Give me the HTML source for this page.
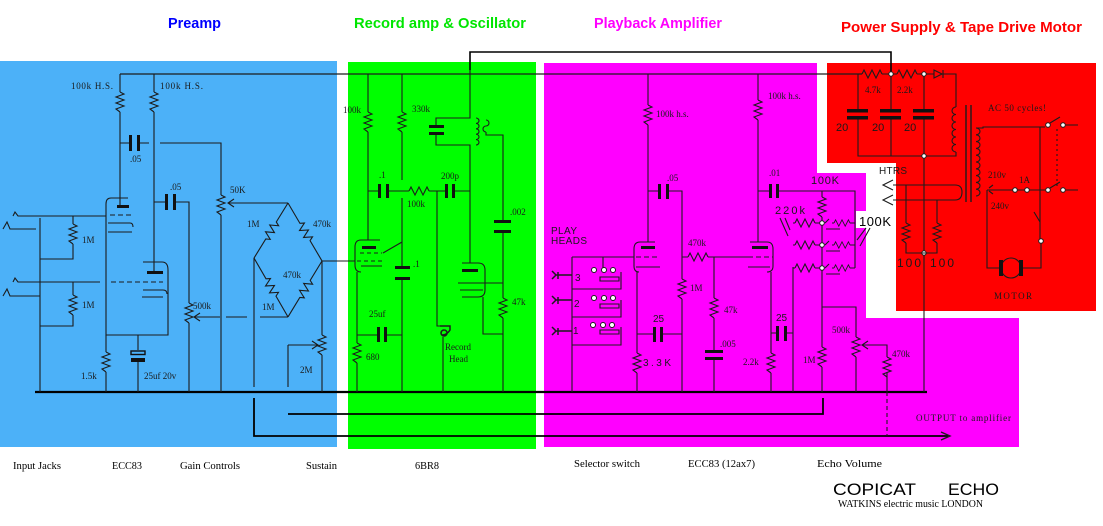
<!DOCTYPE html>
<html><head><meta charset="utf-8"><style>
html,body{margin:0;padding:0;background:#fff;}
svg{display:block;}
.w{stroke:#1c1c1c;stroke-width:1.1;fill:none;}
.d{stroke:#1c1c1c;stroke-width:1.1;fill:none;stroke-dasharray:5,3;}
.g{stroke:#000;stroke-width:2.2;fill:none;}
.p{fill:#111;}
.c{fill:#fff;stroke:#1c1c1c;stroke-width:1;}
text{font-family:"Liberation Serif",serif;font-size:9px;fill:#1a1a1a;}
.s{font-family:"Liberation Sans",sans-serif;}
.t{font-family:"Liberation Sans",sans-serif;font-weight:bold;font-size:15px;}
.b{font-size:10.5px;fill:#000;}
</style></head><body>
<svg width="1103" height="526" viewBox="0 0 1103 526" xmlns="http://www.w3.org/2000/svg">
<defs>
<path id="rv" d="M0,0 l4,2 l-8,3 l8,3 l-8,3 l8,3 l-8,3 l4,3"/>
<path id="rh" d="M0,0 l2,-4 l4,8 l4,-8 l4,8 l4,-8 l2,4"/>
</defs>

<!-- colour regions -->
<rect x="0" y="61" width="337" height="386" fill="#4cb1f8"/>
<rect x="348" y="62" width="188" height="387" fill="#00ff00"/>
<polygon points="544,63 817,63 817,173 866,173 866,318 1019,318 1019,447 544,447" fill="#ff00ff"/>
<polygon points="827,63 1096,63 1096,311 896,311 896,163 827,163" fill="#ff0000"/>
<rect x="856" y="211" width="12" height="17" fill="#fff"/>

<!-- titles -->
<text class="t" x="168" y="28" fill="#0000ff" style="fill:#0000ff" textLength="53" lengthAdjust="spacingAndGlyphs">Preamp</text>
<text class="t" x="354" y="28" style="fill:#00e600" textLength="172" lengthAdjust="spacingAndGlyphs">Record amp &amp; Oscillator</text>
<text class="t" x="594" y="28" style="fill:#ff00ff" textLength="128" lengthAdjust="spacingAndGlyphs">Playback Amplifier</text>
<text class="t" x="841" y="32" style="fill:#ff0000" textLength="241" lengthAdjust="spacingAndGlyphs">Power Supply &amp; Tape Drive Motor</text>

<!-- buses -->
<path class="w" style="stroke-width:1.6;stroke:#000" d="M470,70 V52 H891 V74"/>
<path class="w" style="stroke-width:1.3" d="M120,74 H862"/>
<path class="g" d="M35,392 H927"/>
<path class="g" style="stroke-width:1.8" d="M288,414 H823 V398"/>
<path class="g" style="stroke-width:1.8" d="M254,398 V436 H948"/>
<path class="w" style="stroke-width:1.4" d="M941,432 L950,436 L941,440"/>

<!-- ===== PREAMP ===== -->
<path class="w" d="M120,74 V92 M120,112 V206 M154,74 V92 M154,112 V272"/>
<use href="#rv" class="w" x="120" y="92"/>
<use href="#rv" class="w" x="154" y="92"/>
<path class="w" d="M120,143 H130 M139,143 H149 M160,143 H221 V195 M221,215 V392"/>
<rect class="p" x="129" y="135" width="3" height="16"/><rect class="p" x="137" y="135" width="3" height="16"/>
<use href="#rv" class="w" x="221" y="195"/>
<path class="w" d="M229,203 H288 M234,199 L228,203 L234,207"/>
<path class="w" d="M154,202 H166 M175,202 H189 V303 M189,323 V392"/>
<rect class="p" x="165" y="194" width="3" height="16"/><rect class="p" x="173" y="194" width="3" height="16"/>
<use href="#rv" class="w" x="189" y="303"/>
<path class="w" d="M195,317 H220 M226,317 H247 M260,317 H288 M200,313 L194,317 L200,321"/>
<!-- bridge -->
<path class="w" transform="translate(288,203) rotate(121.7)" d="M0,0 H22.3 l2,-4 l4,8 l4,-8 l4,8 l4,-8 l2,4 H64.7"/>
<path class="w" transform="translate(288,203) rotate(59.6)" d="M0,0 H23.6 l2,-4 l4,8 l4,-8 l4,8 l4,-8 l2,4 H67.2"/>
<path class="w" transform="translate(254,258) rotate(60)" d="M0,0 H24 l2,-4 l4,8 l4,-8 l4,8 l4,-8 l2,4 H68.1"/>
<path class="w" transform="translate(322,261) rotate(121.3)" d="M0,0 H22.7 l2,-4 l4,8 l4,-8 l4,8 l4,-8 l2,4 H65.5"/>
<path class="w" d="M322,261 H355 M254,258 V387 M322,261 V335 M322,355 V392 M288,345 V387"/>
<use href="#rv" class="w" x="322" y="335"/>
<path class="w" d="M288,345 H317 M312,341 L318,345 L312,349"/>
<!-- input jacks -->
<path class="w" d="M3,229 L7,222 L10,229 H36 M13,216 L15,212 L18,216 H106 M40,218 V392 M73,216 V224 M73,244 V259 H40 M3,296 L7,289 L10,296 H40 M13,282 L15,278 L18,282 H100 M73,282 V295 M73,315 V326 H40"/>
<path class="d" d="M111,282 H163"/>
<use href="#rv" class="w" x="73" y="224"/>
<use href="#rv" class="w" x="73" y="295"/>
<!-- tube 1 -->
<path class="w" d="M128,198 H111 Q106,198 106,204 V335 H168 V270 Q168,262 162,262 H143 M108,223 H130 Q133,223 133,227 M108,232 H132"/>
<rect class="p" x="117" y="205" width="12" height="3"/>
<path class="d" d="M110,215 H132"/>
<rect class="p" x="147" y="271" width="16" height="3"/>
<path class="w" d="M143,290 H163 Q167,290 167,294 M142,297 H163"/>
<path class="w" d="M106,335 V352 M106,372 V392 M138,335 V350 M138,362 V392"/>
<use href="#rv" class="w" x="106" y="352"/>
<rect x="131" y="351" width="14" height="3.5" fill="none" stroke="#111" stroke-width="1.4"/>
<rect class="p" x="131" y="358" width="14" height="4"/>
<!-- preamp labels -->
<text x="71" y="89" textLength="42">100k H.S.</text>
<text x="160" y="89" textLength="43">100k H.S.</text>
<text x="130" y="162">.05</text>
<text x="170" y="190">.05</text>
<text x="230" y="193">50K</text>
<text x="247" y="227">1M</text>
<text x="313" y="227">470k</text>
<text x="82" y="243">1M</text>
<text x="82" y="308">1M</text>
<text x="283" y="278">470k</text>
<text x="193" y="309">500k</text>
<text x="262" y="310">1M</text>
<text x="81" y="379">1.5k</text>
<text x="144" y="379">25uf 20v</text>
<text x="300" y="373">2M</text>

<!-- ===== RECORD AMP ===== -->
<path class="w" d="M368,74 V112 M368,132 V240 M402,74 V112 M402,132 V180 M402,198 V242 L383,253 M402,242 V267 M402,280 V392"/>
<use href="#rv" class="w" x="368" y="112"/>
<use href="#rv" class="w" x="402" y="112"/>
<rect class="p" x="395" y="266" width="15" height="3"/><rect class="p" x="395" y="277" width="15" height="3"/>
<path class="w" d="M368,191 H379 M389,191 H409 M429,191 H445 M455,191 H470"/>
<rect class="p" x="378" y="184" width="3" height="14"/><rect class="p" x="386" y="184" width="3" height="14"/>
<rect class="p" x="445" y="184" width="3" height="14"/><rect class="p" x="452" y="184" width="3" height="14"/>
<use href="#rh" class="w" x="409" y="191"/>
<path class="w" d="M470,70 V118 H436 V126 M436,134 V145 H470 V263"/>
<rect class="p" x="429" y="125" width="15" height="3"/><rect class="p" x="429" y="132" width="15" height="3"/>
<path class="w" d="M476,118 a3,2.7 0 1 1 0,5.4 a3,2.7 0 1 1 0,5.4 a3,2.7 0 1 1 0,5.4 a3,2.7 0 1 1 0,5.4 a3,2.7 0 1 1 0,5.4"/>
<path class="w" d="M486,120 a3,3 0 1 1 0,6 a3,3 0 1 0 0,6 M486,132 V135 H503 V221 M503,232 V298 M503,318 V392"/>
<rect class="p" x="494" y="220" width="17" height="3"/><rect class="p" x="494" y="230" width="17" height="3"/>
<use href="#rv" class="w" x="503" y="298"/>
<path class="w" d="M462,263 H478 Q485,263 485,270 V290 Q485,297 478,297 H462 M458,283 H503 M460,290 H483 M483,297 V334 H503"/>
<rect class="p" x="462" y="269" width="16" height="3"/>
<path class="w" d="M380,240 H361 Q355,240 355,247 V265 Q355,272 361,272 M361,266 H382 M357,272 V343 M357,363 V392"/>
<rect class="p" x="362" y="246" width="14" height="3"/>
<path class="d" style="stroke-dasharray:4,3" d="M360,253 H382 M357,261 H382"/>
<use href="#rv" class="w" x="357" y="343"/>
<path class="w" d="M357,335 H377 M387,335 H402"/>
<rect class="p" x="377" y="327" width="3" height="15"/><rect class="p" x="384" y="327" width="3" height="15"/>
<path class="w" d="M437,191 V326 H441 M443,337 V392"/>
<path class="w" style="stroke-width:1.5" d="M440,326 h10 v4 q-3,5 -8,5 M444,330 a3,3 0 1 0 0.1,0"/>
<text x="343" y="113">100k</text>
<text x="412" y="112">330k</text>
<text x="379" y="178">.1</text>
<text x="441" y="179">200p</text>
<text x="407" y="207">100k</text>
<text x="510" y="215">.002</text>
<text x="413" y="267">.1</text>
<text x="369" y="317">25uf</text>
<text x="366" y="360">680</text>
<text x="512" y="305">47k</text>
<text x="445" y="350">Record</text>
<text x="449" y="362">Head</text>

<!-- ===== PLAYBACK ===== -->
<path class="w" d="M648,74 V105 M648,125 V242 M648,191 H659 M669,191 H682 V279 M682,299 V392"/>
<use href="#rv" class="w" x="648" y="105"/>
<use href="#rv" class="w" x="682" y="279"/>
<rect class="p" x="658" y="184" width="3" height="15"/><rect class="p" x="666" y="184" width="3" height="15"/>
<path class="w" d="M682,257 H688 M708,257 H748 M714,257 V298 M714,318 V350 M714,360 V392"/>
<use href="#rh" class="w" x="688" y="257"/>
<use href="#rv" class="w" x="714" y="298"/>
<rect class="p" x="705" y="350" width="18" height="3"/><rect class="p" x="705" y="357" width="18" height="3"/>
<path class="w" d="M655,242 H640 Q634,242 634,249 V266 Q634,272 639,272 M636,267 H660 M572,257 H634"/>
<rect class="p" x="641" y="246" width="14" height="3"/>
<path class="d" d="M636,257 H660"/>
<path class="w" d="M637,272 V353 M637,373 V392 M637,334 H653 M663,334 H682"/>
<use href="#rv" class="w" x="637" y="353"/>
<rect class="p" x="653" y="327" width="3" height="15"/><rect class="p" x="660" y="327" width="3" height="15"/>
<path class="w" d="M750,242 H767 Q773,242 773,249 V266 Q773,272 767,272 M748,267 H770 M758,74 V100 M758,120 V242"/>
<rect class="p" x="752" y="246" width="16" height="3"/>
<path class="d" d="M748,257 H773"/>
<use href="#rv" class="w" x="758" y="100"/>
<path class="w" d="M771,272 V353 M771,373 V392 M771,333 H777 M787,333 H793 M793,267 V392"/>
<use href="#rv" class="w" x="771" y="353"/>
<rect class="p" x="776" y="326" width="3" height="15"/><rect class="p" x="784" y="326" width="3" height="15"/>
<path class="w" d="M758,191 H769 M779,191 H855 V268"/>
<rect class="p" x="769" y="184" width="3" height="14"/><rect class="p" x="776" y="184" width="3" height="14"/>
<path class="w" d="M822,191 V197 M822,217 V347 M822,367 V392 M822,307 H856 V337 M856,357 V392"/>
<use href="#rv" class="w" x="822" y="197"/>
<use href="#rv" class="w" x="822" y="347"/>
<use href="#rv" class="w" x="856" y="337"/>
<path class="w" d="M863,345 H887 V357 M887,372 V392 M868,341 L862,345 L868,349"/>
<use href="#rv" class="w" x="887" y="357"/>
<path class="d" style="stroke-dasharray:4,3" d="M887,392 V436"/>
<path class="w" d="M793,223 H795 M815,223 H820 M793,245 H795 M815,245 H820 M793,268 H795 M815,268 H820"/>
<use href="#rh" class="w" x="795" y="223"/><use href="#rh" class="w" x="795" y="245"/><use href="#rh" class="w" x="795" y="268"/>
<path class="w" d="M825,223 l4,-4 M832,223 H834 M850,223 H855 M825,245 l4,-4 M832,245 H834 M850,245 H855 M825,268 l4,-4 M832,268 H834 M850,268 H855 M826,229 H840 M826,251 H840 M826,274 H840"/>
<path class="w" transform="translate(834,223) scale(0.8)" d="M0,0 l2,-4 l4,8 l4,-8 l4,8 l4,-8 l2,4"/>
<path class="w" transform="translate(834,245) scale(0.8)" d="M0,0 l2,-4 l4,8 l4,-8 l4,8 l4,-8 l2,4"/>
<path class="w" transform="translate(834,268) scale(0.8)" d="M0,0 l2,-4 l4,8 l4,-8 l4,8 l4,-8 l2,4"/>
<circle class="c" cx="822" cy="223" r="2.3"/><circle class="c" cx="822" cy="245" r="2.3"/><circle class="c" cx="822" cy="268" r="2.3"/>
<path class="w" d="M780,218 L788,236 M785,218 L790,230 M870,228 L860,246 M866,228 L857,240"/>
<!-- play heads -->
<path class="w" d="M572,257 V392 M603,257 V268 M621,272 V289 H572 M621,300 V317 H572 M621,327 V345 H572"/>
<path class="w" d="M600,277 H619 V281 H600 Z M600,304 H619 V308 H600 Z M600,330 H619 V334 H600 Z"/>
<circle class="c" cx="594" cy="270" r="2.5"/><circle class="c" cx="604" cy="270" r="2.5"/><circle class="c" cx="613" cy="270" r="2.5"/>
<circle class="c" cx="594" cy="298" r="2.5"/><circle class="c" cx="604" cy="298" r="2.5"/><circle class="c" cx="613" cy="298" r="2.5"/>
<circle class="c" cx="593" cy="325" r="2.5"/><circle class="c" cx="603" cy="325" r="2.5"/><circle class="c" cx="612" cy="325" r="2.5"/>
<path class="w" style="stroke-width:1.5" d="M552,271 l4,4 l-4,4 M556,275 h7 M558,272 v7 M552,296 l4,4 l-4,4 M556,300 h7 M558,297 v7 M552,327 l4,4 l-4,4 M556,331 h7 M558,328 v7 M563,275 H572 M563,300 H572 M563,331 H572"/>
<text class="s" x="551" y="234" textLength="26" style="font-size:10px">PLAY</text>
<text class="s" x="551" y="244" textLength="36" style="font-size:10px">HEADS</text>
<text class="s" x="575" y="281" style="font-size:10px">3</text>
<text class="s" x="574" y="307" style="font-size:10px">2</text>
<text class="s" x="573" y="334" style="font-size:10px">1</text>
<text x="656" y="117">100k h.s.</text>
<text x="768" y="99">100k h.s.</text>
<text x="667" y="181">.05</text>
<text x="769" y="176">.01</text>
<text class="s" x="811" y="184" textLength="28" style="font-size:11px">100K</text>
<text class="s" x="775" y="214" textLength="30" style="font-size:11px">220k</text>
<text x="688" y="246">470k</text>
<text x="690" y="291">1M</text>
<text x="724" y="313">47k</text>
<text x="720" y="347">.005</text>
<text class="s" x="653" y="322" style="font-size:10px">25</text>
<text class="s" x="643" y="366" textLength="28" style="font-size:10px">3.3K</text>
<text class="s" x="776" y="321" style="font-size:10px">25</text>
<text x="743" y="365">2.2k</text>
<text x="803" y="363">1M</text>
<text x="832" y="333">500k</text>
<text x="892" y="357">470k</text>
<text x="916" y="421" textLength="95">OUTPUT to amplifier</text>
<text class="s" x="859" y="226" textLength="32" style="font-size:13px;fill:#000">100K</text>

<!-- ===== POWER SUPPLY ===== -->
<path class="w" d="M862,74 H862 M882,74 H897 M917,74 H934 M943,74 H956 V107 M956,152 V156 H858 V118 M858,112 V74 M891,74 V112 M891,118 V156 M924,74 V112 M924,118 V392"/>
<use href="#rh" class="w" x="862" y="74"/>
<use href="#rh" class="w" x="897" y="74"/>
<rect class="p" x="847" y="109" width="21" height="3.5"/><rect class="p" x="847" y="116" width="21" height="3.5"/>
<rect class="p" x="880" y="109" width="21" height="3.5"/><rect class="p" x="880" y="116" width="21" height="3.5"/>
<rect class="p" x="913" y="109" width="21" height="3.5"/><rect class="p" x="913" y="116" width="21" height="3.5"/>
<path class="w" d="M934,70 L942,74 L934,78 Z M943,70 V78"/>
<circle class="c" cx="891" cy="74" r="2.2"/><circle class="c" cx="924" cy="74" r="2.2"/><circle class="c" cx="924" cy="156" r="2.2"/><circle class="c" cx="924" cy="253" r="2.2"/>
<path class="w" d="M956,107 a4,3.75 0 1 0 0,7.5 a4,3.75 0 1 0 0,7.5 a4,3.75 0 1 0 0,7.5 a4,3.75 0 1 0 0,7.5 a4,3.75 0 1 0 0,7.5 a4,3.75 0 1 0 0,7.5"/>
<path class="w" style="stroke-width:1.4" d="M966,105 V202 M971,105 V202"/>
<path class="w" d="M976,128 a4,3.4 0 1 1 0,6.8 a4,3.4 0 1 1 0,6.8 a4,3.4 0 1 1 0,6.8 a4,3.4 0 1 1 0,6.8 a4,3.4 0 1 1 0,6.8 a4,3.4 0 1 1 0,6.8 a4,3.4 0 1 1 0,6.8 a4,3.4 0 1 1 0,6.8 a4,3.4 0 1 1 0,6.8 a4,3.4 0 1 1 0,6.8"/>
<path class="w" d="M976,128 H983 V127 H1040 H1045 M1066,125 H1078 M1040,127 V240 M987,190 H1045 M1066,190 H1078 M987,190 V268 H999 M1023,268 H1041 V243 M1040,222 L1034,212"/>
<path class="w" d="M1050,123 L1060,117 M1050,188 L1060,182"/>
<circle class="c" cx="1048" cy="125" r="2.3"/><circle class="c" cx="1063" cy="125" r="2.3"/>
<circle class="c" cx="1048" cy="190" r="2.3"/><circle class="c" cx="1063" cy="190" r="2.3"/>
<circle class="c" cx="1015" cy="190" r="2.3"/><circle class="c" cx="1027" cy="190" r="2.3"/>
<circle class="c" cx="1041" cy="241" r="2.3"/>
<path class="d" style="stroke-dasharray:2,3" d="M1057,129 V186"/>
<circle cx="1011" cy="268" r="10" fill="none" stroke="#1c1c1c" stroke-width="1.1"/>
<rect class="p" x="999" y="260" width="4" height="16"/><rect class="p" x="1019" y="260" width="4" height="16"/>
<path class="w" d="M893,180 L883,185 L893,190 M893,185 H950 M893,195 L883,200 L893,205 M893,200 H950 M950,185 H955 Q962,185 962,192 Q962,200 955,200 H950"/>
<path class="w" d="M906,185 V223 M906,243 V253 H937 V243 M937,200 V223"/>
<use href="#rv" class="w" x="906" y="223"/>
<use href="#rv" class="w" x="937" y="223"/>
<path class="w" d="M989,188 l4,-3 M989,191 l4,3"/>
<text x="865" y="93">4.7k</text>
<text x="897" y="93">2.2k</text>
<text class="s" x="836" y="131" style="font-size:11px">20</text>
<text class="s" x="872" y="131" style="font-size:11px">20</text>
<text class="s" x="904" y="131" style="font-size:11px">20</text>
<text x="988" y="111" textLength="58">AC 50 cycles!</text>
<text class="s" x="879" y="174" textLength="28" style="font-size:10px">HTRS</text>
<text x="988" y="178">210v</text>
<text x="1019" y="183">1A</text>
<text x="991" y="209">240v</text>
<text class="s" x="897" y="267" textLength="24" style="font-size:12px">100</text>
<text class="s" x="930" y="267" textLength="24" style="font-size:12px">100</text>
<text x="994" y="299" textLength="38">MOTOR</text>

<!-- bottom labels -->
<text class="b" x="13" y="469" textLength="48" lengthAdjust="spacingAndGlyphs">Input Jacks</text>
<text class="b" x="112" y="469" textLength="30" lengthAdjust="spacingAndGlyphs">ECC83</text>
<text class="b" x="180" y="469" textLength="60" lengthAdjust="spacingAndGlyphs">Gain Controls</text>
<text class="b" x="306" y="469" textLength="31" lengthAdjust="spacingAndGlyphs">Sustain</text>
<text class="b" x="415" y="469" textLength="24" lengthAdjust="spacingAndGlyphs">6BR8</text>
<text class="b" x="574" y="467" textLength="66" lengthAdjust="spacingAndGlyphs">Selector switch</text>
<text class="b" x="688" y="467" textLength="67" lengthAdjust="spacingAndGlyphs">ECC83 (12ax7)</text>
<text class="b" x="817" y="467" textLength="65" lengthAdjust="spacingAndGlyphs">Echo Volume</text>
<text class="s" x="833" y="495" style="font-size:16.5px;fill:#000" textLength="83" lengthAdjust="spacingAndGlyphs">COPICAT</text>
<text class="s" x="948" y="495" style="font-size:16.5px;fill:#000" textLength="51" lengthAdjust="spacingAndGlyphs">ECHO</text>
<text x="838" y="507" style="font-size:10px;fill:#000" textLength="145" lengthAdjust="spacingAndGlyphs">WATKINS electric music LONDON</text>
</svg>
</body></html>
